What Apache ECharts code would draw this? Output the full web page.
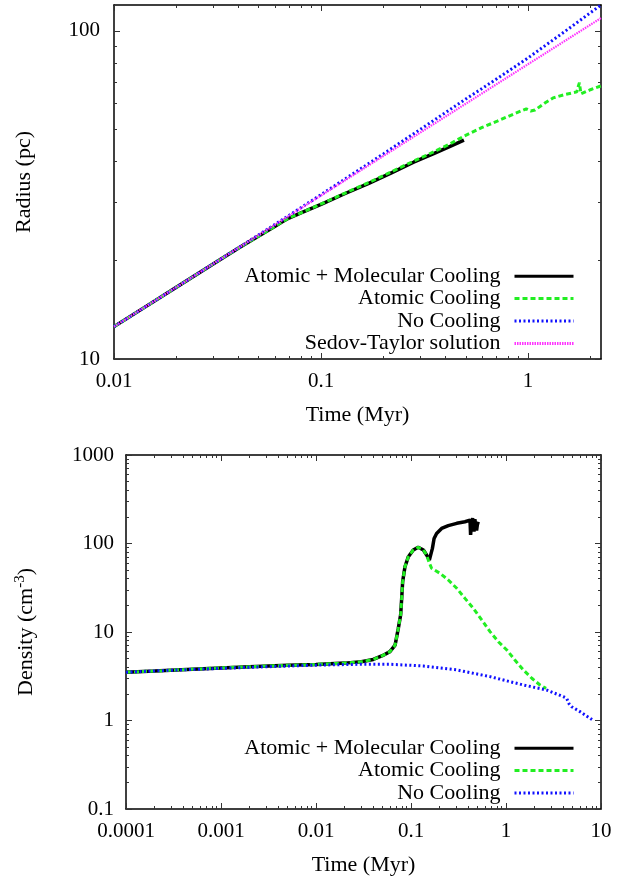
<!DOCTYPE html>
<html><head><meta charset="utf-8">
<script src="https://cdn.jsdelivr.net/npm/echarts@6/dist/echarts.min.js"></script>
<style>html,body{margin:0;padding:0;background:#fff}#c{width:627px;height:877px}</style>
</head><body><div id="c"></div>
<script>
// ---------- names ----------
const seriesNames = ['Atomic + Molecular Cooling', 'Atomic Cooling', 'No Cooling', 'Sedov-Taylor solution'];

// ---------- top panel: radius (pc) vs time (Myr) ----------
const rTimeAM = [0.01, 0.015, 0.02, 0.03, 0.04, 0.05, 0.06, 0.065, 0.07, 0.08, 0.1, 0.13, 0.17, 0.22, 0.28, 0.35, 0.42, 0.49];
const rAM     = [12.55, 14.75, 16.55, 19.45, 21.8, 23.7, 25.4, 26.2, 26.9, 27.9, 29.6, 31.9, 34.3, 37.0, 39.8, 42.3, 44.5, 46.5];
const rTimeAC = [0.01, 0.015, 0.02, 0.03, 0.04, 0.05, 0.06, 0.065, 0.07, 0.08, 0.1, 0.13, 0.17, 0.22, 0.28, 0.35, 0.42, 0.49, 0.6, 0.71, 0.85, 0.98, 1.03, 1.08, 1.2, 1.32, 1.5, 1.72, 1.75, 1.77, 1.79, 1.8, 2.0, 2.25];
const rAC     = [12.55, 14.75, 16.55, 19.45, 21.8, 23.7, 25.4, 26.2, 26.9, 27.9, 29.7, 32.0, 34.5, 37.3, 40.1, 42.8, 45.3, 47.8, 50.8, 53.1, 55.8, 57.9, 57.0, 57.4, 60.2, 62.5, 64.0, 65.2, 68.0, 69.5, 66.0, 64.3, 66.2, 68.0];
const rTimeNC = [0.01, 0.02, 0.04, 0.07, 0.1, 0.2, 0.28, 0.5, 0.7, 1.0, 1.5, 2.25];
const rNC     = [12.55, 16.55, 21.85, 27.4, 31.7, 42.2, 48.6, 62.0, 71.2, 82.8, 99.5, 120];
const rTimeST = [0.01, 0.1, 1.0, 2.25];
const rST     = [12.55, 31.5, 79.2, 109.5];

const topXTickValues = [0.01, 0.1, 1];
const topXTickLabels = ['0.01', '0.1', '1'];
const topYTickValues = [10, 100];
const topYTickLabels = ['10', '100'];

// ---------- bottom panel: density (cm^-3) vs time (Myr) ----------
const dTimeAM = [0.0001, 0.0002, 0.0005, 0.001, 0.002, 0.005, 0.01, 0.02, 0.03, 0.04, 0.05, 0.06, 0.068, 0.0735, 0.0778, 0.0798, 0.0817, 0.0864, 0.0938, 0.1057, 0.119, 0.135, 0.146, 0.156, 0.160, 0.168, 0.175, 0.186, 0.21, 0.247, 0.303, 0.37, 0.418, 0.424, 0.435, 0.445, 0.46, 0.47, 0.483, 0.49, 0.499, 0.51];
const dAM     = [3.51, 3.62, 3.8, 3.93, 4.05, 4.2, 4.3, 4.45, 4.62, 4.9, 5.4, 6.0, 7.1, 11.0, 15.6, 24.0, 37.1, 54.7, 71.0, 84.5, 90.6, 84.5, 74.1, 65.1, 68, 88, 114, 130, 148, 159, 169, 176, 184, 125, 180, 193, 136, 188, 184, 140, 162, 176];
const dTimeAC = [0.0001, 0.0002, 0.0005, 0.001, 0.002, 0.005, 0.01, 0.02, 0.03, 0.04, 0.05, 0.06, 0.068, 0.0735, 0.0778, 0.0798, 0.0817, 0.0864, 0.0938, 0.1057, 0.119, 0.135, 0.146, 0.156, 0.165, 0.202, 0.247, 0.303, 0.37, 0.453, 0.555, 0.679, 0.831, 1.02, 1.24, 1.52, 1.87, 2.28, 2.64];
const dAC     = [3.51, 3.62, 3.8, 3.93, 4.05, 4.2, 4.3, 4.45, 4.62, 4.9, 5.4, 6.0, 7.1, 11.0, 15.6, 24.0, 37.1, 54.7, 71.0, 84.5, 90.6, 84.5, 74.1, 60.0, 52.5, 46.0, 38.7, 31.2, 24.0, 18.5, 13.7, 10.1, 7.77, 6.26, 4.83, 3.73, 3.0, 2.52, 2.31];
const dTimeNC = [0.0001, 0.0003, 0.001, 0.003, 0.01, 0.03, 0.06, 0.135, 0.303, 0.679, 1.52, 2.68, 3.5, 4.0, 4.35, 4.6, 4.91, 6.01, 7.66, 8.2];
const dNC     = [3.51, 3.7, 3.88, 4.05, 4.22, 4.32, 4.32, 4.13, 3.73, 3.13, 2.52, 2.21, 1.97, 1.86, 1.78, 1.55, 1.43, 1.26, 1.06, 1.01];

const botXTickValues = [0.0001, 0.001, 0.01, 0.1, 1, 10];
const botXTickLabels = ['0.0001', '0.001', '0.01', '0.1', '1', '10'];
const botYTickValues = [0.1, 1, 10, 100, 1000];
const botYTickLabels = ['0.1', '1', '10', '100', '1000'];

// ---------- helpers ----------
const FONT = '"Liberation Serif", "Times New Roman", Times, serif';
const pairs = (xs, ys) => xs.map((x, i) => [x, ys[i]]);
function minorValues(lo, hi) {
  const out = [];
  for (let e = Math.floor(Math.log10(lo)); e <= Math.ceil(Math.log10(hi)); e++) {
    for (let k = 2; k <= 9; k++) {
      const v = parseFloat((k * Math.pow(10, e)).toPrecision(6));
      if (v > lo * 1.0001 && v < hi * 0.9999) out.push(v);
    }
  }
  return out;
}
function fmt(values, labels) {
  return v => {
    const i = values.findIndex(m => Math.abs(Math.log10(m) - Math.log10(v)) < 1e-6);
    return i >= 0 ? labels[i] : '';
  };
}
function mkAxis(gridIndex, position, min, max, tickVals, tickLen, extra) {
  return Object.assign({
    type: 'log', logBase: 10, gridIndex: gridIndex, position: position, min: min, max: max,
    axisLine: { show: true, onZero: false, lineStyle: { color: '#000', width: 1.5 } },
    axisTick: { show: true, inside: true, length: tickLen, customValues: tickVals, lineStyle: { color: '#333', width: 1 } },
    axisLabel: { show: false },
    splitLine: { show: false },
    minorTick: { show: false },
    minorSplitLine: { show: false },
    axisPointer: { show: false },
    silent: true
  }, extra || {});
}
function labeled(values, labels, margin) {
  return { show: true, customValues: values, formatter: fmt(values, labels), fontFamily: FONT, fontSize: 21, color: '#000', margin: margin };
}
const nameStyle = { fontFamily: FONT, fontSize: 22, color: '#000' };

const TX = [0.01, 2.25], TY = [10, 120];
const BX = [0.0001, 10], BY = [0.1, 1000];

const xAxes = [
  mkAxis(0, 'bottom', TX[0], TX[1], topXTickValues, 6, {
    axisLabel: labeled(topXTickValues, topXTickLabels, 12),
    name: 'Time (Myr)', nameLocation: 'middle', nameGap: 45, nameTextStyle: nameStyle }),
  mkAxis(0, 'bottom', TX[0], TX[1], minorValues(TX[0], TX[1]), 3, { axisLine: { show: false } }),
  mkAxis(0, 'top', TX[0], TX[1], topXTickValues, 6),
  mkAxis(0, 'top', TX[0], TX[1], minorValues(TX[0], TX[1]), 3, { axisLine: { show: false } }),
  mkAxis(1, 'bottom', BX[0], BX[1], botXTickValues, 6, {
    axisLabel: labeled(botXTickValues, botXTickLabels, 12),
    name: 'Time (Myr)', nameLocation: 'middle', nameGap: 45, nameTextStyle: nameStyle }),
  mkAxis(1, 'bottom', BX[0], BX[1], minorValues(BX[0], BX[1]), 3, { axisLine: { show: false } }),
  mkAxis(1, 'top', BX[0], BX[1], botXTickValues, 6),
  mkAxis(1, 'top', BX[0], BX[1], minorValues(BX[0], BX[1]), 3, { axisLine: { show: false } })
];
const yAxes = [
  mkAxis(0, 'left', TY[0], TY[1], topYTickValues, 6, {
    axisLabel: labeled(topYTickValues, topYTickLabels, 14),
    name: 'Radius (pc)', nameLocation: 'middle', nameGap: 79, nameTextStyle: nameStyle }),
  mkAxis(0, 'left', TY[0], TY[1], minorValues(TY[0], TY[1]), 3, { axisLine: { show: false } }),
  mkAxis(0, 'right', TY[0], TY[1], topYTickValues, 6),
  mkAxis(0, 'right', TY[0], TY[1], minorValues(TY[0], TY[1]), 3, { axisLine: { show: false } }),
  mkAxis(1, 'left', BY[0], BY[1], botYTickValues, 6, {
    axisLabel: labeled(botYTickValues, botYTickLabels, 12),
    name: 'Density (cm{sup|-3})', nameLocation: 'middle', nameGap: 86,
    nameTextStyle: Object.assign({}, nameStyle, { rich: { sup: { fontFamily: FONT, fontSize: 15, color: '#000', padding: [0, 0, 12, 0] } } }) }),
  mkAxis(1, 'left', BY[0], BY[1], minorValues(BY[0], BY[1]), 3, { axisLine: { show: false } }),
  mkAxis(1, 'right', BY[0], BY[1], botYTickValues, 6),
  mkAxis(1, 'right', BY[0], BY[1], minorValues(BY[0], BY[1]), 3, { axisLine: { show: false } })
];

const styles = [
  { color: '#000000', width: 3.5, type: 'solid' },
  { color: '#22ee22', width: 3, type: [5, 3] },
  { color: '#1111ff', width: 3, type: [2, 2.5] },
  { color: '#ff33ff', width: 2.2, type: [1.5, 1] }
];
function line(name, data, xi, yi, st) {
  return { type: 'line', name: name, data: data, xAxisIndex: xi, yAxisIndex: yi,
    symbol: 'none', showSymbol: false, clip: true, smooth: false, silent: true,
    lineStyle: { color: st.color, width: st.width, type: st.type },
    itemStyle: { color: st.color } };
}
const series = [
  line(seriesNames[0], pairs(rTimeAM, rAM), 0, 0, styles[0]),
  line(seriesNames[1], pairs(rTimeAC, rAC), 0, 0, styles[1]),
  line(seriesNames[2], pairs(rTimeNC, rNC), 0, 0, styles[2]),
  line(seriesNames[3], pairs(rTimeST, rST), 0, 0, styles[3]),
  line(seriesNames[0], pairs(dTimeAM, dAM), 4, 4, styles[0]),
  line(seriesNames[1], pairs(dTimeAC, dAC), 4, 4, styles[1]),
  line(seriesNames[2], pairs(dTimeNC, dNC), 4, 4, styles[2])
];

function mkLegend(top, names) {
  return {
    orient: 'vertical', align: 'right', right: 52, top: top, padding: 0, itemGap: 0,
    itemWidth: 59, itemHeight: 14, selectedMode: false,
    data: names,
    itemStyle: { opacity: 0, borderWidth: 0 },
    lineStyle: { width: 3 },
    textStyle: { fontFamily: FONT, fontSize: 22, color: '#000', lineHeight: 22.4, padding: [0, 9, 0, 0] }
  };
}

const chart = echarts.init(document.getElementById('c'), null, { renderer: 'canvas' });
chart.setOption({
  backgroundColor: '#ffffff',
  animation: false,
  grid: [
    { left: 114, top: 5, right: 26, height: 354, containLabel: false },
    { left: 126, top: 455, right: 26, height: 354, containLabel: false }
  ],
  legend: [
    mkLegend(265, seriesNames.slice(0, 4)),
    mkLegend(737, seriesNames.slice(0, 3))
  ],
  xAxis: xAxes,
  yAxis: yAxes,
  series: series
});
</script></body></html>
